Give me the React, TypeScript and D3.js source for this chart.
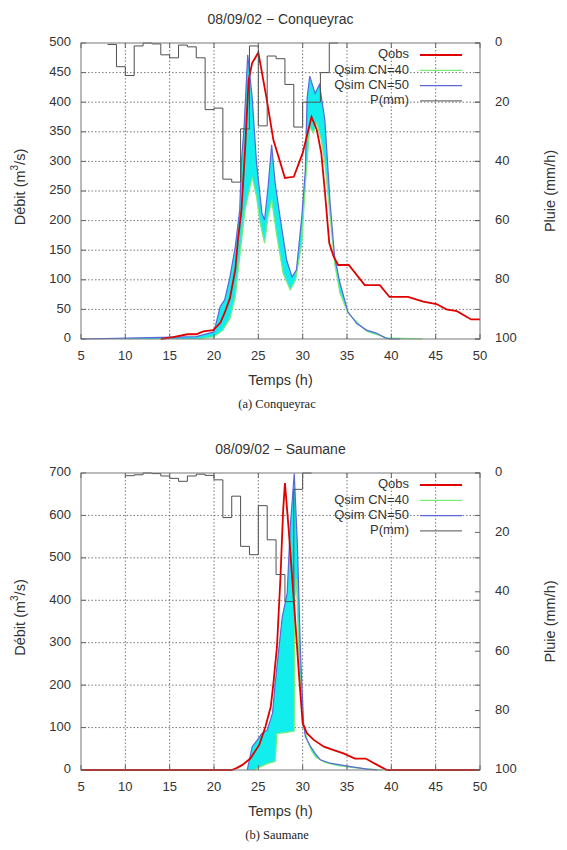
import React from 'react';
import * as d3 from 'd3';

// ---------- shared ----------
const timeTicks = [5, 10, 15, 20, 25, 30, 35, 40, 45, 50];
const rainTicks = [0, 20, 40, 60, 80, 100];
const legendLabels = ['Qobs', 'Qsim CN=40', 'Qsim CN=50', 'P(mm)'];

// ---------- (a) Conqueyrac ----------
const conqTitle = '08/09/02 \u2212 Conqueyrac';
const conqCaption = '(a) Conqueyrac';
const conqQTicks = [0, 50, 100, 150, 200, 250, 300, 350, 400, 450, 500];
const conqRainStart = [8, 9, 10, 11, 12, 13, 14, 15, 16, 17, 18, 19, 20, 21, 22, 23, 24, 25, 26, 27, 28, 29, 30, 31, 32, 33];
const conqRainMm = [0.5, 8, 11, 1, 0, 0.3, 4, 5, 0.7, 1.3, 5, 22.5, 22, 46, 47, 29, 1, 28, 4.4, 5.3, 14, 28.4, 20, 20, 10, 0];
const conqObsT = [14, 15.4, 17, 18, 18.8, 19.9, 20.7, 21.2, 21.8, 22.4, 22.7, 23.1, 23.5, 23.9, 24.3, 25, 25.9, 26.7, 27.5, 28, 29, 30, 31, 31.6, 32.1, 32.5, 33, 33.5, 34, 35.2, 37, 38.7, 39.8, 41.9, 43.6, 45.1, 46.2, 47.4, 49, 50];
const conqObsQ = [0, 3, 8, 8, 13, 15, 27, 44, 69, 117, 167, 218, 319, 437, 466, 484, 409, 336, 297, 272, 274, 314, 375, 353, 314, 250, 162, 139, 125, 125, 91, 91, 71, 71, 63, 59, 50, 47, 33, 33];
const conqCn40T = [18.2, 20, 21, 21.8, 22.4, 22.9, 23.5, 24.3, 24.8, 25.2, 25.7, 26.1, 26.5, 27.1, 27.8, 28.6, 29.2, 29.9, 30.3, 30.8, 31.2, 31.6, 32.1, 32.5, 33.1, 33.6, 34.2, 35.1, 37.2, 39.5, 43.5];
const conqCn40Q = [0, 4, 15, 35, 71, 139, 218, 274, 240, 196, 162, 207, 235, 173, 111, 83, 100, 162, 260, 359, 348, 365, 336, 297, 207, 128, 78, 44, 13, 2, 0];
const conqCn50T = [5, 18, 20, 20.7, 21.2, 21.8, 22.4, 22.9, 23.1, 23.4, 23.8, 24.3, 24.8, 25.4, 25.7, 26.1, 26.5, 26.9, 27.5, 28.2, 28.8, 29.3, 29.9, 30.3, 30.5, 30.8, 31.4, 31.9, 32.5, 33.1, 33.6, 34.2, 35.1, 36.1, 37.2, 38.3, 39.3, 39.8, 41];
const conqCn50Q = [0, 4, 12, 55, 66, 105, 156, 218, 300, 360, 480, 409, 297, 213, 201, 257, 328, 263, 201, 133, 105, 117, 207, 285, 407, 444, 415, 430, 370, 229, 139, 95, 46, 26, 15, 10, 2, 0, 0];

// ---------- (b) Saumane ----------
const saumTitle = '08/09/02 \u2212 Saumane';
const saumCaption = '(b) Saumane';
const saumQTicks = [0, 100, 200, 300, 400, 500, 600, 700];
const saumRainStart = [10, 11, 12, 13, 14, 15, 16, 17, 18, 19, 20, 21, 22, 23, 24, 25, 26, 27, 28, 29, 30];
const saumRainMm = [0.9, 0.6, 0, 0.2, 1, 1.8, 2.8, 1, 0.4, 0.8, 2.3, 15, 7.8, 24.7, 27.5, 11, 22.5, 34.2, 43.3, 5.5, 0];
const saumObsT = [5, 22, 22.6, 23.2, 24.1, 25.1, 25.8, 26.4, 26.7, 27.1, 27.5, 27.8, 28, 28.4, 29, 29.6, 30, 30.5, 31.25, 32.4, 33.5, 34.6, 35.9, 37.1, 38.4, 39.5, 50];
const saumObsQ = [0, 0, 5, 12, 27, 59, 102, 149, 204, 290, 456, 613, 676, 573, 401, 220, 110, 86, 71, 55, 47, 39, 27, 27, 12, 0, 0];
const saumCn40T = [24.5, 26, 26.9, 27.1, 28, 29.05, 29.1, 29.3, 29.6, 29.9, 30.2, 30.6, 31, 31.5, 32.5, 34, 36, 39];
const saumCn40Q = [0, 15, 20, 86, 88, 92, 400, 450, 250, 140, 95, 65, 45, 30, 18, 10, 5, 0];
const saumCn50T = [23.75, 24.3, 24.9, 25.4, 26, 26.6, 26.9, 27.3, 27.7, 28.25, 28.6, 29.05, 29.4, 29.75, 30.1, 30.3, 30.9, 31.4, 32, 33.1, 34.25, 35.4, 37.25, 38.4];
const saumCn50Q = [0, 55, 71, 86, 94, 134, 204, 283, 361, 416, 573, 699, 534, 280, 110, 79, 55, 39, 24, 16, 12, 8, 2, 0];

const SANS = '"Liberation Sans", Arial, Helvetica, sans-serif';
const SERIF = '"Liberation Serif", "DejaVu Serif", serif';
const RED = '#e00000';
const GREEN = '#78ec78';
const BLUE = '#5a68dc';
const CYAN = '#12eeee';
const GREY = '#505050';
const TXT = '#333';

type PanelProps = {
  top: number; bottom: number; left: number; right: number;
  title: string; caption: string; qTicks: number[];
  rainStart: number[]; rainMm: number[];
  obsT: number[]; obsQ: number[];
  c40T: number[]; c40Q: number[];
  c50T: number[]; c50Q: number[];
};

function Panel(p: PanelProps) {
  const x = d3.scaleLinear().domain([5, 50]).range([p.left, p.right]);
  const qMax = p.qTicks[p.qTicks.length - 1];
  const y = d3.scaleLinear().domain([0, qMax]).range([p.bottom, p.top]);
  const yr = d3.scaleLinear().domain([0, 100]).range([p.top, p.bottom]);

  const line = d3.line<[number, number]>().x(d => x(d[0])).y(d => y(d[1]));
  const zip = (t: number[], v: number[]) => t.map((tt, i) => [tt, v[i]] as [number, number]);

  const obs = zip(p.obsT, p.obsQ);
  const c40 = zip(p.c40T, p.c40Q);
  const c50 = zip(p.c50T, p.c50Q);
  const band = line(c50.concat(c40.slice().reverse())) + 'Z';

  const rainPts = zip(p.rainStart, p.rainMm);
  rainPts.push([p.rainStart[p.rainStart.length - 1] + 1, p.rainMm[p.rainMm.length - 1]]);
  const rainLine = d3.line<[number, number]>().x(d => x(d[0])).y(d => yr(d[1])).curve(d3.curveStepAfter);

  const tk = 5;
  const cx = (p.left + p.right) / 2;
  const legX1 = 420, legX2 = 462, legTextX = 409;
  const legY0 = p.top + 12;
  const legColors = [RED, GREEN, BLUE, GREY];
  const legWidths = [2, 1.2, 1.2, 1];

  return (
    <g>
      {timeTicks.slice(1, -1).map(t => (
        <line key={'gx' + t} x1={x(t)} x2={x(t)} y1={p.top} y2={p.bottom} stroke="#555" strokeWidth={0.8} strokeDasharray="1.5,2" />
      ))}
      {p.qTicks.slice(1, -1).map(q => (
        <line key={'gy' + q} x1={p.left} x2={p.right} y1={y(q)} y2={y(q)} stroke="#555" strokeWidth={0.8} strokeDasharray="1.5,2" />
      ))}

      <path d={band} fill={CYAN} stroke="none" />
      <path d={line(c40) || ''} fill="none" stroke={GREEN} strokeWidth={1.2} />
      <path d={line(c50) || ''} fill="none" stroke={BLUE} strokeWidth={1.2} />
      <path d={line(obs) || ''} fill="none" stroke={RED} strokeWidth={1.8} />
      <path d={rainLine(rainPts) || ''} fill="none" stroke={GREY} strokeWidth={1} />

      <rect x={p.left} y={p.top} width={p.right - p.left} height={p.bottom - p.top} fill="none" stroke="#777" strokeWidth={1} />

      {timeTicks.map(t => (
        <g key={'tx' + t}>
          <line x1={x(t)} x2={x(t)} y1={p.bottom} y2={p.bottom - tk} stroke="#666" />
          <line x1={x(t)} x2={x(t)} y1={p.top} y2={p.top + tk} stroke="#666" />
          <text x={x(t)} y={p.bottom + 18} textAnchor="middle" dominantBaseline="middle" fontFamily={SANS} fontSize={13} fill={TXT}>{t}</text>
        </g>
      ))}
      {p.qTicks.map(q => (
        <g key={'ty' + q}>
          <line x1={p.left} x2={p.left + tk} y1={y(q)} y2={y(q)} stroke="#666" />
          <line x1={p.right} x2={p.right - tk} y1={y(q)} y2={y(q)} stroke="#666" />
          <text x={p.left - 10} y={y(q)} textAnchor="end" dominantBaseline="middle" fontFamily={SANS} fontSize={13} fill={TXT}>{q}</text>
        </g>
      ))}
      {rainTicks.map(r => (
        <g key={'tr' + r}>
          <line x1={p.right} x2={p.right - tk} y1={yr(r)} y2={yr(r)} stroke="#666" />
          <text x={p.right + 15} y={yr(r)} textAnchor="start" dominantBaseline="middle" fontFamily={SANS} fontSize={13} fill={TXT}>{r}</text>
        </g>
      ))}

      {legendLabels.map((lab, i) => (
        <g key={'lg' + i}>
          <text x={legTextX} y={legY0 + i * 15.3} textAnchor="end" dominantBaseline="middle" fontFamily={SANS} fontSize={13} fill={TXT}>{lab}</text>
          <line x1={legX1} x2={legX2} y1={legY0 + i * 15.3} y2={legY0 + i * 15.3} stroke={legColors[i]} strokeWidth={legWidths[i]} />
        </g>
      ))}

      <text x={cx} y={p.top - 23} textAnchor="middle" dominantBaseline="middle" fontFamily={SANS} fontSize={14} fill={TXT}>{p.title}</text>
      <text x={cx} y={p.bottom + 42} textAnchor="middle" dominantBaseline="middle" fontFamily={SANS} fontSize={14.5} fill={TXT}>Temps (h)</text>
      <text x={277} y={p.bottom + 66} textAnchor="middle" dominantBaseline="middle" fontFamily={SERIF} fontSize={12.5} fill="#222">{p.caption}</text>
      <text transform={`translate(21,${(p.top + p.bottom) / 2 - 4}) rotate(-90)`} textAnchor="middle" dominantBaseline="middle" fontFamily={SANS} fontSize={14.5} fill={TXT}>
        Débit (m<tspan dy={-6} fontSize={10}>3</tspan><tspan dy={6}>/s)</tspan>
      </text>
      <text transform={`translate(551,${(p.top + p.bottom) / 2}) rotate(-90)`} textAnchor="middle" dominantBaseline="middle" fontFamily={SANS} fontSize={14.5} fill={TXT}>Pluie (mm/h)</text>
    </g>
  );
}

export default function App() {
  return (
    <svg width={567} height={850} style={{ position: 'absolute', left: 0, top: 0, background: '#fff' }}>
      <rect x={0} y={0} width={567} height={850} fill="#fff" />
      <Panel top={43} bottom={339} left={81} right={480}
        title={conqTitle} caption={conqCaption} qTicks={conqQTicks}
        rainStart={conqRainStart} rainMm={conqRainMm}
        obsT={conqObsT} obsQ={conqObsQ}
        c40T={conqCn40T} c40Q={conqCn40Q}
        c50T={conqCn50T} c50Q={conqCn50Q} />
      <Panel top={473} bottom={770} left={81} right={480}
        title={saumTitle} caption={saumCaption} qTicks={saumQTicks}
        rainStart={saumRainStart} rainMm={saumRainMm}
        obsT={saumObsT} obsQ={saumObsQ}
        c40T={saumCn40T} c40Q={saumCn40Q}
        c50T={saumCn50T} c50Q={saumCn50Q} />
    </svg>
  );
}
